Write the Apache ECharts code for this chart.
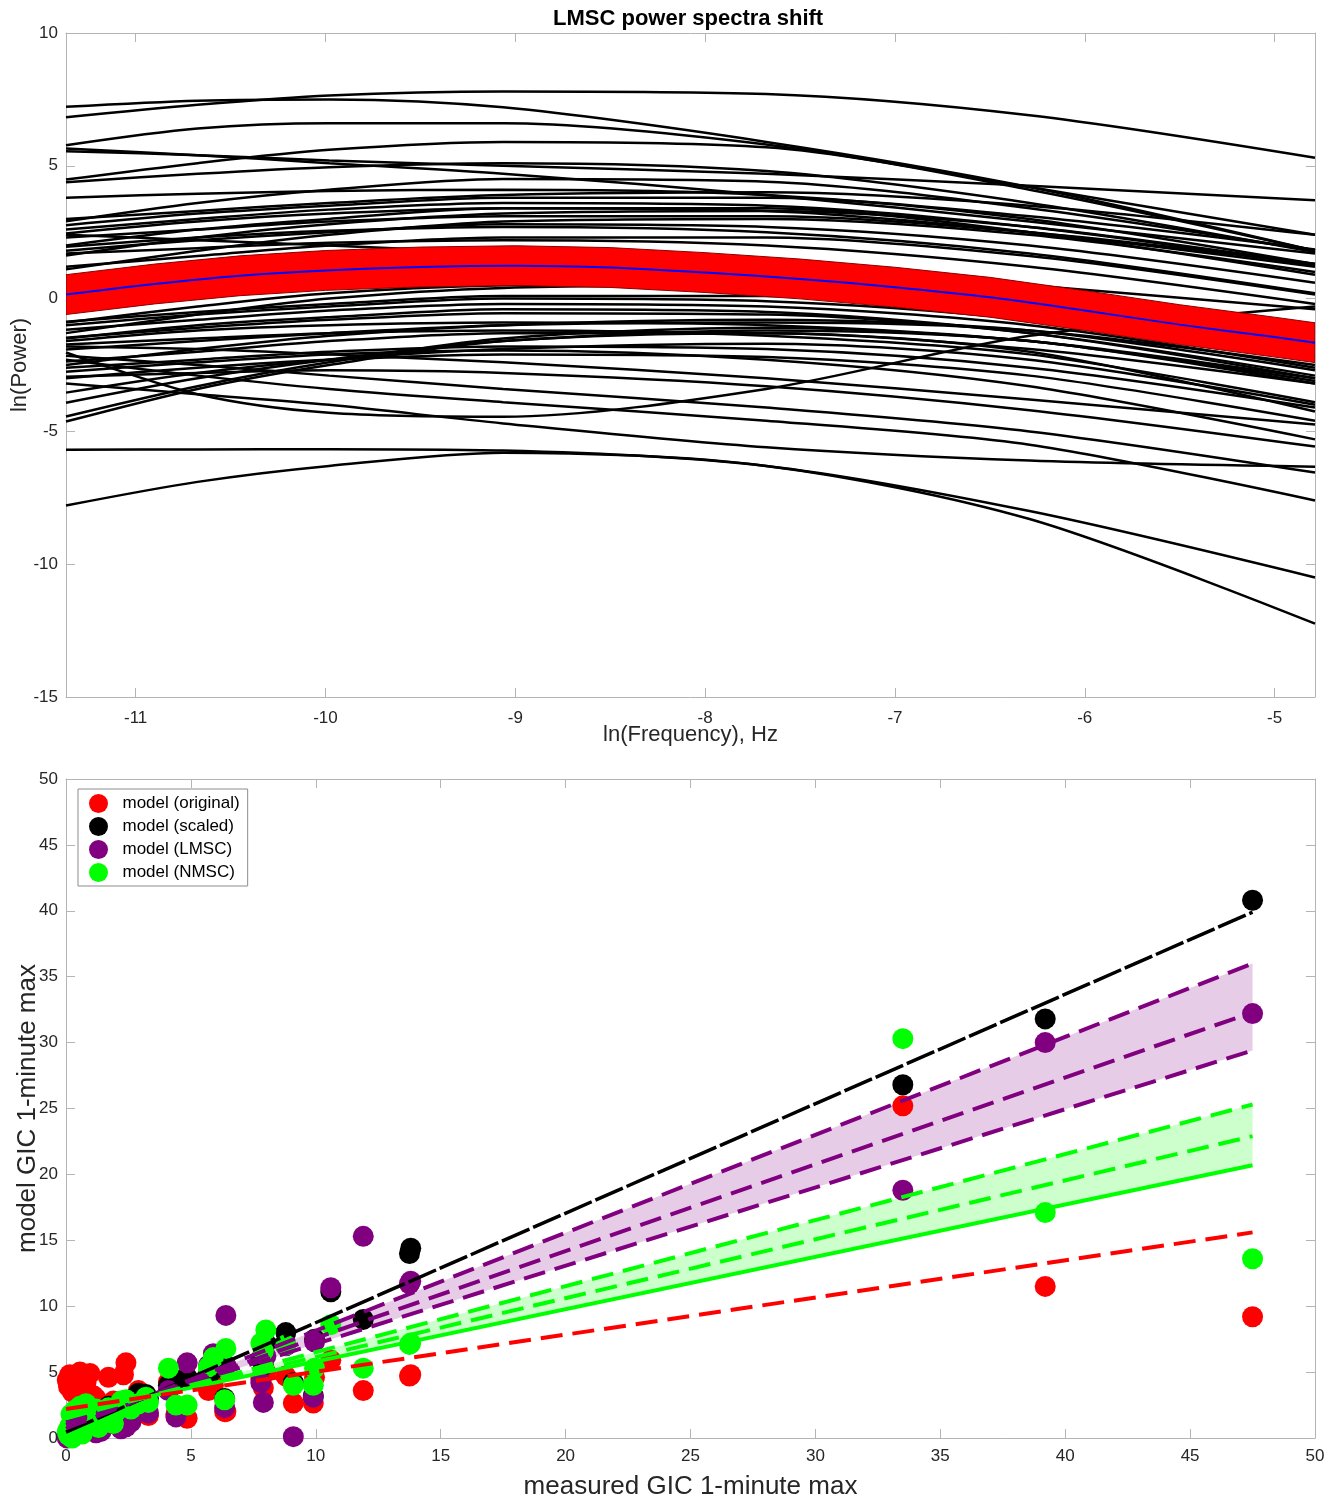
<!DOCTYPE html>
<html lang="en">
<head>
    <meta charset="utf-8">
    <title>LMSC power spectra shift</title>
    <script src="https://cdn.jsdelivr.net/npm/echarts@6/dist/echarts.min.js"></script>
    <style type="text/css">
        html, body {
            margin: 0;
            padding: 0;
            background: #fff;
        }

        #main {
            width: 1338px;
            height: 1500px;
        }
    </style>
</head>
<body>
<div id="main"></div>

<script type="text/javascript">
    // ---- top panel: log power spectra ----
    var lnFreq = [-11.367, -10.674, -9.981, -9.064, -7.678, -6.291, -4.787];
    var freqTicks = [-11, -10, -9, -8, -7, -6, -5];

    // one row per station spectrum, values at lnFreq
    var spectra = [
        [6.83, 7.3, 7.65, 7.8, 7.7, 6.9, 5.3],
        [7.22, 7.45, 7.5, 7.2, 5.9, 4.2, 1.8],
        [5.77, 6.4, 6.6, 6.6, 5.8, 4.2, 2.4],
        [5.55, 5.4, 5.2, 5.0, 4.7, 4.25, 3.7],
        [4.48, 5.1, 5.6, 5.9, 5.7, 4.1, 1.8],
        [4.38, 4.7, 4.95, 5.1, 4.8, 3.6, 1.75],
        [3.8, 3.95, 4.05, 4.1, 3.9, 3.0, 1.3],
        [2.91, 3.6, 4.1, 4.5, 4.4, 3.4, 1.8],
        [2.76, 3.2, 3.5, 3.8, 3.8, 3.1, 1.85],
        [2.45, 2.9, 3.2, 3.4, 3.3, 2.5, 1.2],
        [2.3, 2.6, 2.9, 3.1, 3.1, 2.5, 1.3],
        [2.0, 2.6, 3.0, 3.4, 3.4, 2.5, 0.9],
        [1.8, 2.2, 2.5, 2.8, 2.7, 2.0, 0.6],
        [1.62, 2.3, 2.8, 3.2, 3.3, 2.7, 1.3],
        [1.2, 1.6, 2.0, 2.3, 2.3, 1.6, 0.15],
        [1.1, 1.8, 2.4, 2.9, 3.0, 2.4, 1.0],
        [5.65, 5.4, 5.1, 4.7, 3.9, 2.9, 1.7],
        [2.4, 2.2, 2.0, 1.7, 1.2, 0.5, -0.4],
        [1.95, 2.3, 2.55, 2.7, 2.5, 1.7, 0.2],
        [2.6, 3.0, 3.35, 3.6, 3.5, 2.7, 1.25],
        [3.0, 3.3, 3.6, 3.9, 4.0, 3.5, 2.4],
        [1.7, 1.9, 2.1, 2.2, 2.0, 1.2, -0.2],
        [-0.87, -0.5, -0.2, 0.1, 0.1, -0.5, -1.8],
        [-1.0, -0.6, -0.3, 0.0, -0.1, -0.8, -2.2],
        [-1.17, -0.8, -0.45, -0.2, -0.3, -1.0, -2.6],
        [-1.3, -0.6, 0.0, 0.4, 0.5, 0.0, -1.1],
        [-1.47, -1.1, -0.8, -0.55, -0.6, -1.3, -2.9],
        [-1.6, -1.2, -1.0, -0.9, -1.0, -1.6, -3.1],
        [-1.73, -1.5, -1.3, -1.2, -1.4, -2.1, -3.9],
        [-1.92, -1.6, -1.3, -1.0, -0.9, -1.2, -2.5],
        [-2.03, -3.6, -4.3, -4.45, -3.4, -1.4, -0.3],
        [-2.15, -2.5, -2.9, -3.4, -4.1, -5.0, -6.55],
        [-2.37, -2.0, -1.6, -1.3, -1.3, -1.9, -3.2],
        [-2.6, -2.3, -2.0, -1.8, -1.9, -2.6, -4.1],
        [-2.75, -2.4, -2.1, -1.95, -2.3, -3.3, -5.3],
        [-2.94, -2.8, -2.7, -2.8, -3.3, -4.2, -5.57],
        [-3.54, -2.8, -2.3, -1.9, -1.7, -2.3, -4.0],
        [-3.92, -3.0, -2.3, -1.6, -1.2, -1.6, -3.2],
        [-4.44, -3.3, -2.4, -1.5, -1.1, -1.6, -3.0],
        [-4.63, -3.4, -2.5, -1.6, -1.3, -2.0, -4.25],
        [-2.3, -2.9, -3.4, -3.9, -4.6, -5.5, -7.6],
        [-5.69, -5.68, -5.67, -5.72, -6.3, -8.0, -10.5],
        [-7.79, -6.9, -6.3, -5.8, -6.3, -8.3, -12.24],
        [-3.2, -3.6, -4.0, -4.7, -5.6, -6.1, -6.33],
        [-1.5, -1.0, -0.7, -0.4, -0.5, -1.3, -3.0],
        [-0.9, -0.3, 0.2, 0.5, 0.6, 0.0, -1.3],
        [-2.5, -1.9, -1.4, -1.0, -0.8, -1.2, -2.7],
        [-3.0, -2.6, -2.3, -2.1, -2.2, -2.9, -4.6],
        [-1.8, -1.9, -2.1, -2.4, -3.0, -3.8, -4.74]
    ];

    // LMSC mean shift and its band
    var bandFreq = [-11.367, -10.9, -10.45, -10.0, -9.5, -9.0, -8.5, -8.0, -7.5, -7.0, -6.5, -6.0, -5.5, -5.0, -4.787];
    var lmscMean = [0.15, 0.55, 0.86, 1.06, 1.19, 1.24, 1.17, 0.98, 0.74, 0.43, 0.05, -0.45, -0.98, -1.45, -1.66];
    var lmscUpper = [0.9, 1.3, 1.61, 1.81, 1.94, 1.99, 1.92, 1.73, 1.49, 1.18, 0.8, 0.3, -0.23, -0.7, -0.91];
    var lmscLower = [-0.6, -0.2, 0.11, 0.31, 0.44, 0.49, 0.42, 0.23, -0.01, -0.32, -0.7, -1.2, -1.73, -2.2, -2.41];

    // ---- bottom panel: measured vs model GIC ----
    var measured = [47.5, 39.2, 33.5, 13.8, 13.75, 11.9, 10.6, 9.9, 9.95, 9.1, 8.8, 8.0, 7.8, 7.9, 6.4,
        6.35, 5.9, 5.7, 4.85, 4.4, 4.1, 3.2, 2.9, 2.4, 2.3, 1.7, 1.4, 1.1, 0.96, 0.76,
        0.56, 0.4, 0.2, 0.1, 0.3, 0.65, 1.9, 2.6, 3.3, 1.3, 0.05,
        0.15, 0.35, 0.5, 0.8, 1.0, 1.2, 1.55, 2.0, 0.25, 2.2];
    var modelOriginal = [9.2, 11.5, 25.2, 4.8, 4.7, 3.6, 5.9, 2.65, 4.6, 2.65, 4.7, 5.0, 4.5, 3.8, 2.0,
        2.0, 4.0, 3.6, 1.5, 1.8, 4.25, 1.9, 3.6, 5.7, 4.8, 4.6, 2.2, 3.2, 4.9, 3.6,
        5.0, 4.3, 4.5, 3.9, 4.0, 4.1, 2.8, 2.5, 1.7, 2.5, 4.4,
        4.8, 3.8, 4.6, 4.2, 2.6, 3.0, 1.9, 2.1, 3.5, 1.3];
    var modelScaled = [40.8, 31.8, 26.8, 14.4, 14.0, 9.0, 11.1, 3.2, 7.5, 4.2, 8.0, 7.2, 6.0, 5.5, 5.5,
        3.0, 5.2, 4.8, 4.6, 4.4, 4.0, 3.3, 3.4, 2.8, 2.5, 2.4, 2.0, 1.7, 1.6, 1.2,
        1.1, 0.9, 0.6, 0.4, 0.8, 1.3, 2.2, 2.9, 3.0, 1.8, 0.3,
        0.5, 0.7, 0.9, 1.3, 1.5, 1.9, 2.1, 2.4, 0.3, 2.6];
    var modelLMSC = [32.2, 30.0, 18.8, 11.9, 11.7, 15.3, 11.4, 3.1, 7.3, 0.1, 7.0, 6.2, 4.2, 2.7, 9.3,
        2.3, 6.4, 5.5, 5.7, 1.6, 3.6, 2.0, 2.5, 0.85, 1.5, 1.3, 0.5, 0.9, 1.5, 0.7,
        0.5, 0.3, 0.2, 0.1, 1.0, 1.2, 1.8, 1.2, 1.9, 0.7, 0.0,
        0.3, 0.6, 0.9, 0.6, 1.1, 0.4, 0.9, 1.9, 0.1, 0.7];
    var modelNMSC = [13.6, 17.1, 30.3, 7.2, 7.1, 5.3, 8.6, 4.0, 5.3, 4.0, 7.05, 8.2, 7.2, 6.6, 6.8,
        2.9, 6.1, 5.4, 2.5, 2.5, 5.3, 3.1, 2.6, 2.9, 2.6, 2.3, 1.9, 1.3, 2.0, 1.0,
        2.4, 0.6, 1.8, 0.2, 1.4, 0.3, 1.1, 2.2, 2.7, 0.8, 0.5,
        0.9, 2.1, 1.5, 2.6, 1.6, 2.2, 1.2, 2.0, 0.0, 2.8];

    // regression lines, values at fitX
    var fitX = [0, 47.5];
    var fitScaled = [0.44, 39.9];
    var fitLMSCUp = [0.72, 36.0];
    var fitLMSC = [1.0, 32.3];
    var fitLMSCLow = [1.2, 29.4];
    var fitNMSCUp = [1.5, 25.3];
    var fitNMSC = [1.67, 22.9];
    var fitNMSCLow = [1.83, 20.7];
    var fitOriginal = [2.2, 15.6];

    var FONT = '"Liberation Sans", Arial, Helvetica, sans-serif';
    var AXIS_GRAY = '#b4b4b4';
    var LABEL = '#262626';

    function pairs(xs, ys) {
        return xs.map(function (x, i) {
            return [x, ys[i]];
        });
    }

    // filled region between two curves, drawn with a custom series
    function bandSeries(xs, up, low, xi, yi, color, edge, z) {
        return {
            type: 'custom', xAxisIndex: xi, yAxisIndex: yi, z: z, silent: true, clip: true,
            data: xs.map(function (x, i) { return [x, up[i], low[i]]; }),
            renderItem: function (params, api) {
                if (params.dataIndex !== 0) return null;
                var pts = [];
                for (var i = 0; i < xs.length; i++) pts.push(api.coord([xs[i], up[i]]));
                for (var j = xs.length - 1; j >= 0; j--) pts.push(api.coord([xs[j], low[j]]));
                return {
                    type: 'polygon',
                    shape: {points: pts},
                    style: {fill: color, stroke: edge || null, lineWidth: edge ? 1 : 0}
                };
            }
        };
    }

    function boxAxis(gridIndex, pos, opts) {
        var ax = {
            type: 'value',
            gridIndex: gridIndex,
            position: pos,
            axisLine: {show: true, onZero: false, lineStyle: {color: AXIS_GRAY, width: 1}},
            axisTick: {show: true, inside: true, length: 9, lineStyle: {color: AXIS_GRAY}},
            axisLabel: {show: false},
            splitLine: {show: false}
        };
        for (var k in opts) ax[k] = opts[k];
        return ax;
    }

    var labelStyle = {show: true, color: LABEL, fontSize: 17, fontFamily: FONT};

    var series = [];

    spectra.forEach(function (row) {
        series.push({
            type: 'line', xAxisIndex: 0, yAxisIndex: 0,
            data: pairs(lnFreq, row),
            symbol: 'none', smooth: 0.3, silent: true,
            lineStyle: {color: '#000', width: 2.5}
        });
    });

    series.push(bandSeries(bandFreq, lmscUpper, lmscLower, 0, 0, '#ff0000', '#8a0000', 5));
    series.push({
        type: 'line', xAxisIndex: 0, yAxisIndex: 0, z: 6,
        data: pairs(bandFreq, lmscMean),
        symbol: 'none', smooth: 0.3, silent: true,
        lineStyle: {color: '#0000ff', width: 2}
    });

    // bottom: shaded bands
    series.push(bandSeries(fitX, fitLMSCUp, fitLMSCLow, 2, 2, '#e6cce6', null, 1));
    series.push(bandSeries(fitX, fitNMSCUp, fitNMSCLow, 2, 2, '#ccffcc', null, 1));

    // scatter
    var pointSets = [
        ['model (original)', modelOriginal, '#ff0000'],
        ['model (scaled)', modelScaled, '#000000'],
        ['model (LMSC)', modelLMSC, '#800080'],
        ['model (NMSC)', modelNMSC, '#00ff00']
    ];
    pointSets.forEach(function (p, i) {
        series.push({
            name: p[0], type: 'scatter', xAxisIndex: 2, yAxisIndex: 2, z: 3 + i,
            data: pairs(measured, p[1]),
            symbol: 'circle', symbolSize: 21, silent: true,
            itemStyle: {color: p[2], opacity: 1}
        });
    });

    // fit lines on top
    var fits = [
        [fitScaled, '#000000', 3.5, [30, 4]],
        [fitLMSCUp, '#800080', 4, [22, 10]],
        [fitLMSC, '#800080', 4, [22, 10]],
        [fitLMSCLow, '#800080', 4, [22, 10]],
        [fitNMSCUp, '#00ff00', 4, [22, 10]],
        [fitNMSC, '#00ff00', 4, [22, 10]],
        [fitNMSCLow, '#00ff00', 4, 'solid'],
        [fitOriginal, '#ff0000', 4, [22, 10]]
    ];
    fits.forEach(function (f) {
        series.push({
            type: 'line', xAxisIndex: 2, yAxisIndex: 2, z: 10,
            data: pairs(fitX, f[0]), symbol: 'none', silent: true,
            lineStyle: {color: f[1], width: f[2], type: f[3]}
        });
    });

    var myChart = echarts.init(document.getElementById('main'), null, {renderer: 'canvas'});
    var option = {
        animation: false,
        backgroundColor: '#fff',
        title: {
            text: 'LMSC power spectra shift',
            left: 553, top: 8, padding: 0,
            textStyle: {fontFamily: FONT, fontSize: 22, fontWeight: 'bold', color: '#000'}
        },
        legend: {
            data: pointSets.map(function (p) { return p[0]; }),
            orient: 'vertical',
            left: 78, top: 789,
            padding: [5, 8, 4, 11],
            itemWidth: 20, itemHeight: 19, itemGap: 4,
            icon: 'circle',
            backgroundColor: '#fff',
            borderColor: '#8c8c8c', borderWidth: 1,
            textStyle: {fontFamily: FONT, fontSize: 17, color: '#000', padding: [0, 0, 0, 9]}
        },
        grid: [
            {left: 66, top: 33, width: 1249, height: 664, outerBoundsMode: 'none', containLabel: false},
            {left: 66, top: 779, width: 1249, height: 659, outerBoundsMode: 'none', containLabel: false}
        ],
        xAxis: [
            boxAxis(0, 'bottom', {
                min: lnFreq[0], max: lnFreq[lnFreq.length - 1],
                axisTick: {show: true, inside: true, length: 9, customValues: freqTicks, lineStyle: {color: AXIS_GRAY}},
                axisLabel: Object.assign({customValues: freqTicks, margin: 13}, labelStyle),
                name: 'ln(Frequency), Hz', nameLocation: 'middle', nameGap: 27, nameMoveOverlap: false,
                nameTextStyle: {fontFamily: FONT, fontSize: 22, color: LABEL}
            }),
            boxAxis(0, 'top', {
                min: lnFreq[0], max: lnFreq[lnFreq.length - 1],
                axisTick: {show: true, inside: true, length: 9, customValues: freqTicks, lineStyle: {color: AXIS_GRAY}}
            }),
            boxAxis(1, 'bottom', {
                min: 0, max: 50, interval: 5,
                axisLabel: Object.assign({margin: 10}, labelStyle),
                name: 'measured GIC 1-minute max', nameLocation: 'middle', nameGap: 36, nameMoveOverlap: false,
                nameTextStyle: {fontFamily: FONT, fontSize: 26, color: LABEL}
            }),
            boxAxis(1, 'top', {min: 0, max: 50, interval: 5})
        ],
        yAxis: [
            boxAxis(0, 'left', {
                min: -15, max: 10, interval: 5,
                axisLabel: Object.assign({margin: 8}, labelStyle),
                name: 'ln(Power)', nameLocation: 'middle', nameGap: 35, nameMoveOverlap: false,
                nameTextStyle: {fontFamily: FONT, fontSize: 22, color: LABEL}
            }),
            boxAxis(0, 'right', {min: -15, max: 10, interval: 5}),
            boxAxis(1, 'left', {
                min: 0, max: 50, interval: 5,
                axisLabel: Object.assign({margin: 8}, labelStyle),
                name: 'model GIC 1-minute max', nameLocation: 'middle', nameGap: 25, nameMoveOverlap: false,
                nameTextStyle: {fontFamily: FONT, fontSize: 26, color: LABEL}
            }),
            boxAxis(1, 'right', {min: 0, max: 50, interval: 5})
        ],
        series: series
    };
    myChart.setOption(option);
</script>
</body>
</html>
